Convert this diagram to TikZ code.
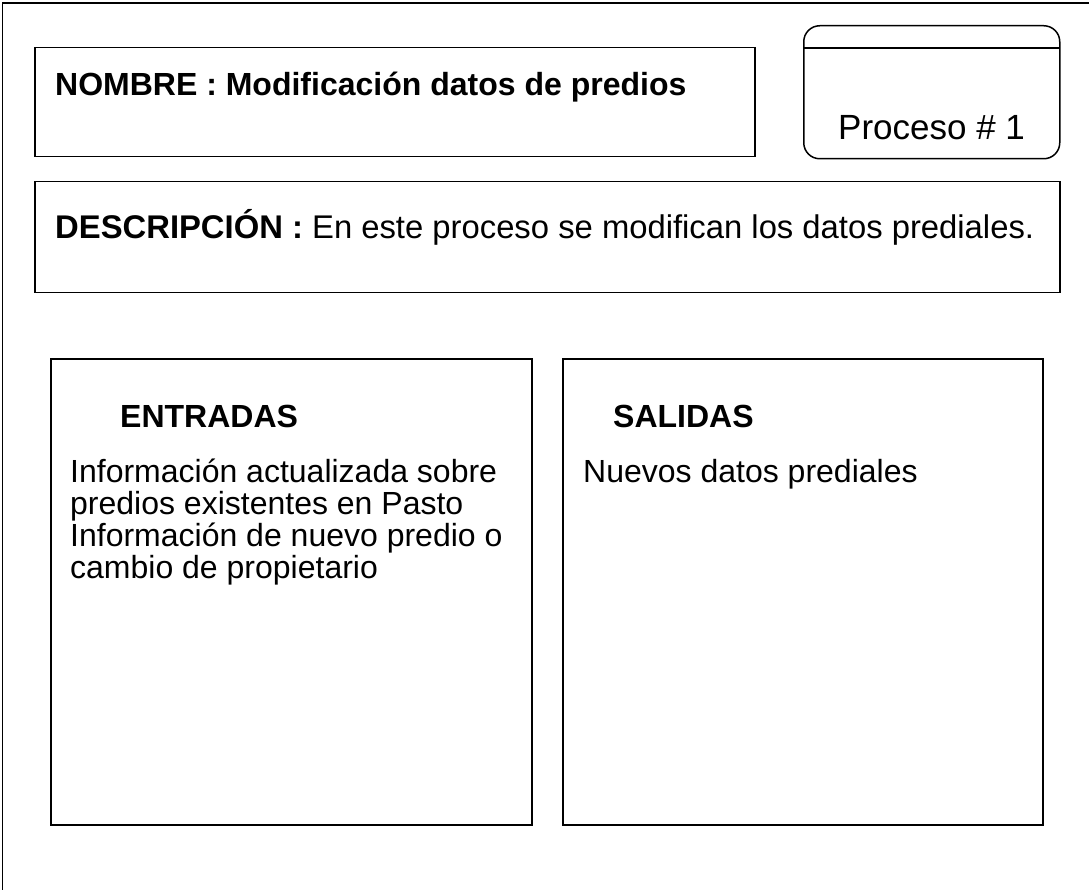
\documentclass[tikz,border=0pt]{standalone}
\usepackage{fontspec}
\setmainfont{Liberation Sans}
\begin{document}
\begin{tikzpicture}[x=1pt,y=-1pt,
  box/.style={draw,line width=1.5pt,inner sep=0pt,anchor=north west},
  txt/.style={anchor=base west,inner sep=0pt,font=\fontsize{32}{38}\selectfont},
  btxt/.style={txt,font=\fontsize{32}{38}\selectfont\bfseries}]
\useasboundingbox (0,0) rectangle (1089,890);
\coordinate (fa) at (2.5,890);
\coordinate (fb) at (2.5,3);
\coordinate (fc) at (1089,3);
\draw[line width=1.5pt] (fa) -- (fb) -- (fc);
\node[box,minimum width=720pt,minimum height=109pt] (nombre) at (34,47) {};
\node[box,rounded corners=16pt,minimum width=256pt,minimum height=133pt] (proc) at (803,25) {};
\coordinate (pl) at (803,48);
\coordinate (pr) at (1059,48);
\draw[line width=1.5pt] (pl) -- (pr);
\node[box,minimum width=1025pt,minimum height=111pt] (desc) at (34,181) {};
\node[box,minimum width=481pt,minimum height=466pt] (ent) at (50,358) {};
\node[box,minimum width=480pt,minimum height=466pt] (sal) at (562,358) {};
\node[btxt] (tnombre) at (55,96) {NOMBRE : Modificación datos de predios};
\node[txt,font=\fontsize{35}{40}\selectfont] (tproc) at (838,140) {Proceso \# 1};
\node[txt,font=\fontsize{32.8}{40}\selectfont] (tdesc) at (55,239) {\textbf{DESCRIPCIÓN :} En este proceso se modifican los datos prediales.};
\node[btxt] (tent) at (120,427) {ENTRADAS};
\node[btxt] (tsal) at (613,427) {SALIDAS};
\node[txt] (e1) at (70,482) {Información actualizada sobre};
\node[txt] (e2) at (70,514) {predios existentes en Pasto};
\node[txt] (e3) at (70,546) {Información de nuevo predio o};
\node[txt] (e4) at (70,578) {cambio de propietario};
\node[txt] (s1) at (583,482) {Nuevos datos prediales};
\end{tikzpicture}
\end{document}
